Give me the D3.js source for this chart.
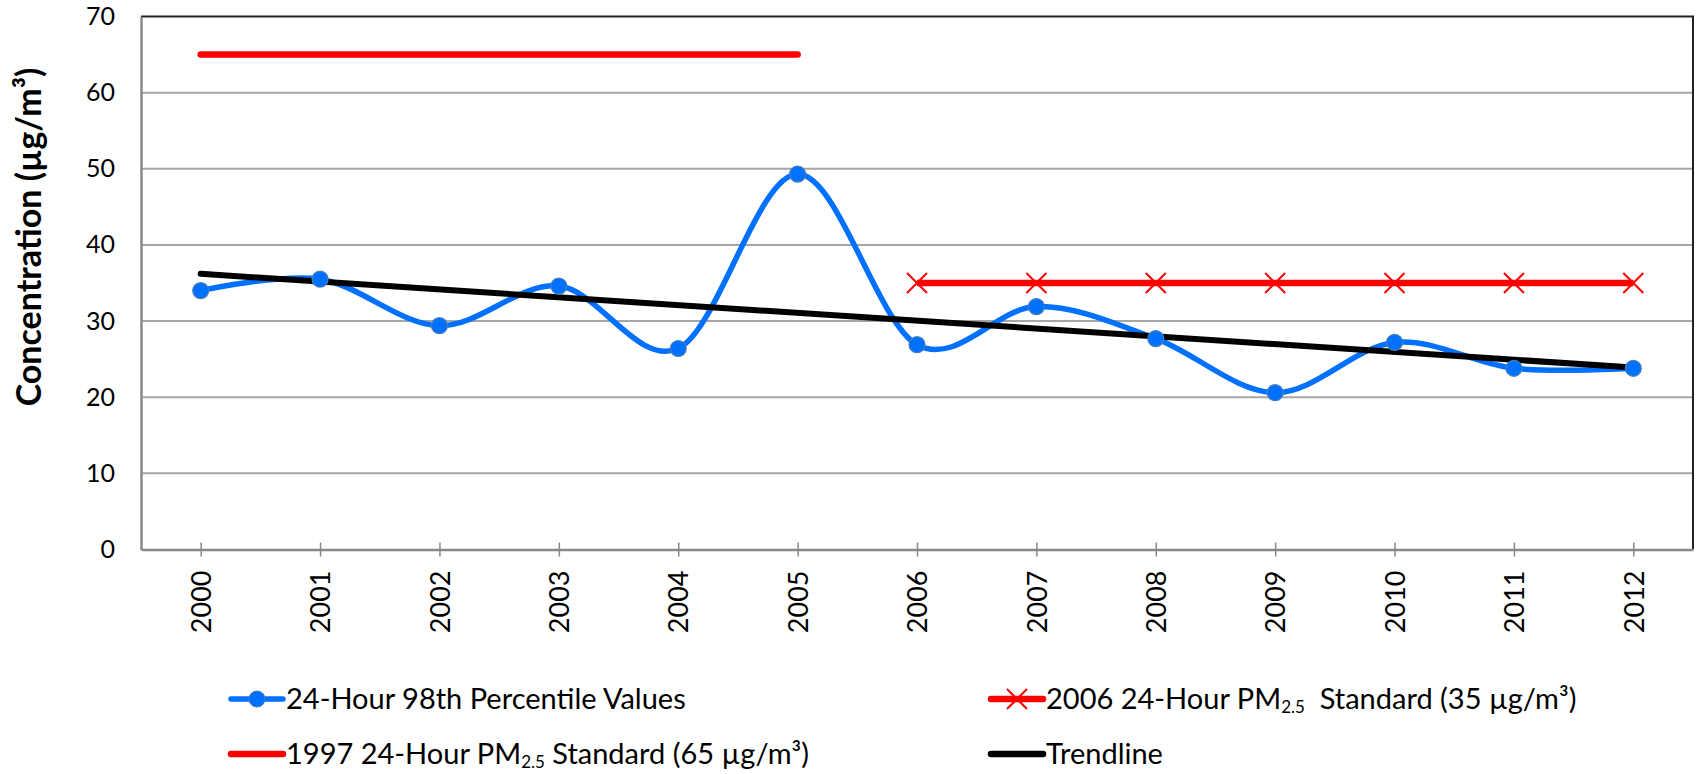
<!DOCTYPE html>
<html>
<head>
<meta charset="utf-8">
<script src="https://cdn.jsdelivr.net/npm/d3@7"></script>
<style>
	body { margin: 0; background: #fff; }
	svg { display: block; font-family: Lato, 'Open Sans', sans-serif; }
	.legend-text { white-space: pre; }
</style>
</head>
<body>
<script>
const YEARS = ['2000','2001','2002','2003','2004','2005','2006','2007','2008','2009','2010','2011','2012'];
const PERCENTILE = [34.0, 35.5, 29.4, 34.6, 26.4, 49.3, 26.9, 31.9, 27.7, 20.6, 27.2, 23.8, 23.8];
const STD_1997_YEARS = ['2000','2005'];
const STD_1997 = [65, 65];
const STD_2006_YEARS = ['2006','2007','2008','2009','2010','2011','2012'];
const STD_2006 = [35, 35, 35, 35, 35, 35, 35];
const TREND_YEARS = ['2000','2012'];
const TREND = [36.2, 23.9];
const Y_TICKS = [0, 10, 20, 30, 40, 50, 60, 70];

const W = 1699, H = 774;
const margin = {top: 16.5, right: 6, bottom: 224.5, left: 141};
const width = W - margin.left - margin.right;
const height = H - margin.top - margin.bottom;

const BLUE = '#0070ff', RED = '#ff0000';

let body = d3.select('body');

let svg = body.append('svg')
	.attr('width', W)
	.attr('height', H);

let chart = svg.append('g')
	.attr('transform', `translate(${margin.left}, ${margin.top})`);

let x = d3.scalePoint()
	.domain(YEARS)
	.range([0, width])
	.padding(0.5);

let y = d3.scaleLinear()
	.domain([0, 70])
	.range([height, 0]);

// gridlines
chart.append('g')
	.selectAll('line')
	.data(Y_TICKS.slice(1, -1))
	.enter()
	.append('line')
	.attr('x1', 0)
	.attr('x2', width)
	.attr('y1', d => y(d))
	.attr('y2', d => y(d))
	.attr('stroke', '#a6a6a6')
	.attr('stroke-width', 2);

// frame top + right
chart.append('path')
	.attr('d', `M0,${y(70)}H${width}V${height}`)
	.attr('fill', 'none')
	.attr('stroke', '#222')
	.attr('stroke-width', 2);

// y axis
let yAxis = chart.append('g')
	.call(d3.axisLeft(y).tickValues(Y_TICKS).tickSize(0).tickPadding(26));
yAxis.select('.domain').attr('stroke', '#888').attr('stroke-width', 2.5);
yAxis.selectAll('text')
	.attr('font-family', 'Lato, sans-serif')
	.attr('font-size', 25)
	.attr('fill', '#000');

// x axis
let xAxis = chart.append('g')
	.attr('transform', `translate(0, ${height})`)
	.call(d3.axisBottom(x).tickSizeOuter(0));
xAxis.select('.domain').attr('stroke', '#888').attr('stroke-width', 2.5);
xAxis.selectAll('.tick line')
	.attr('y1', -7)
	.attr('y2', 7)
	.attr('stroke', '#888')
	.attr('stroke-width', 1.5);
xAxis.selectAll('text')
	.attr('font-family', 'Lato, sans-serif')
	.attr('font-size', 27)
	.attr('fill', '#000')
	.attr('transform', 'rotate(-90)')
	.attr('text-anchor', 'end')
	.attr('x', -21)
	.attr('y', 0)
	.attr('dy', '0.36em');

// y title
svg.append('text')
	.attr('transform', 'translate(29, 237) rotate(-90)')
	.attr('text-anchor', 'middle')
	.attr('dy', '0.35em')
	.attr('font-weight', 'bold')
	.attr('font-size', 34)
	.text('Concentration (µg/m³)');

let line = d3.line()
	.x(d => x(d[0]))
	.y(d => y(d[1]));

// 1997 standard
chart.append('path')
	.datum(d3.zip(STD_1997_YEARS, STD_1997))
	.attr('d', line)
	.attr('fill', 'none')
	.attr('stroke', RED)
	.attr('stroke-width', 6.5)
	.attr('stroke-linecap', 'round');

// 2006 standard
chart.append('path')
	.datum(d3.zip(STD_2006_YEARS, STD_2006))
	.attr('d', line)
	.attr('fill', 'none')
	.attr('stroke', RED)
	.attr('stroke-width', 6.5);

chart.append('g')
	.selectAll('path')
	.data(d3.zip(STD_2006_YEARS, STD_2006))
	.enter()
	.append('path')
	.attr('transform', d => `translate(${x(d[0])}, ${y(d[1])})`)
	.attr('d', 'M-10,-10L10,10M-10,10L10,-10')
	.attr('stroke', RED)
	.attr('stroke-width', 2);

// percentile values (smoothed)
chart.append('path')
	.datum(d3.zip(YEARS, PERCENTILE))
	.attr('d', line.curve(d3.curveCardinal.tension(0)))
	.attr('fill', 'none')
	.attr('stroke', BLUE)
	.attr('stroke-width', 5.5);
line.curve(d3.curveLinear);

// trendline
chart.append('path')
	.datum(d3.zip(TREND_YEARS, TREND))
	.attr('d', line)
	.attr('fill', 'none')
	.attr('stroke', '#000')
	.attr('stroke-width', 6)
	.attr('stroke-linecap', 'round');

chart.append('g')
	.selectAll('circle')
	.data(d3.zip(YEARS, PERCENTILE))
	.enter()
	.append('circle')
	.attr('cx', d => x(d[0]))
	.attr('cy', d => y(d[1]))
	.attr('r', 8)
	.attr('fill', BLUE)
	.attr('stroke', '#4a7ebb')
	.attr('stroke-width', 1.2);

// legend
const LEGEND = [
	{key: 'pct', x: 231, y: 699, parts: ['24-Hour 98th Percentile Values']},
	{key: 'std06', x: 991, y: 699, parts: ['2006 24-Hour PM', '2.5', '  Standard (35 µg/m³)']},
	{key: 'std97', x: 231, y: 754, parts: ['1997 24-Hour PM', '2.5', ' Standard (65 µg/m³)']},
	{key: 'trend', x: 991, y: 754, parts: ['Trendline']}
];

let legend = svg.append('g');
let items = legend.selectAll('g')
	.data(LEGEND)
	.enter()
	.append('g')
	.attr('transform', d => `translate(${d.x}, ${d.y})`);

items.append('line')
	.attr('x1', 0)
	.attr('x2', 52)
	.attr('stroke', d => d.key == 'pct' ? BLUE : d.key == 'trend' ? '#000' : RED)
	.attr('stroke-width', d => d.key == 'pct' ? 5.5 : 6.5)
	.attr('stroke-linecap', 'round');

items.filter(d => d.key == 'pct')
	.append('circle')
	.attr('cx', 26)
	.attr('r', 8)
	.attr('fill', BLUE)
	.attr('stroke', '#4a7ebb');

items.filter(d => d.key == 'std06')
	.append('path')
	.attr('d', 'M16,-10L36,10M16,10L36,-10')
	.attr('stroke', RED)
	.attr('stroke-width', 2);

let labels = items.append('text')
	.attr('class', 'legend-text')
	.attr('x', 55)
	.attr('dy', '0.36em')
	.attr('font-size', 29);

labels.each(function(d) {
	let t = d3.select(this);
	d.parts.forEach((p, i) => {
		let span = t.append('tspan').text(p);
		if (i == 1) span.attr('font-size', 17).attr('dy', 4);
		if (i == 2) span.attr('dy', -4);
	});
});
</script>
</body>
</html>
